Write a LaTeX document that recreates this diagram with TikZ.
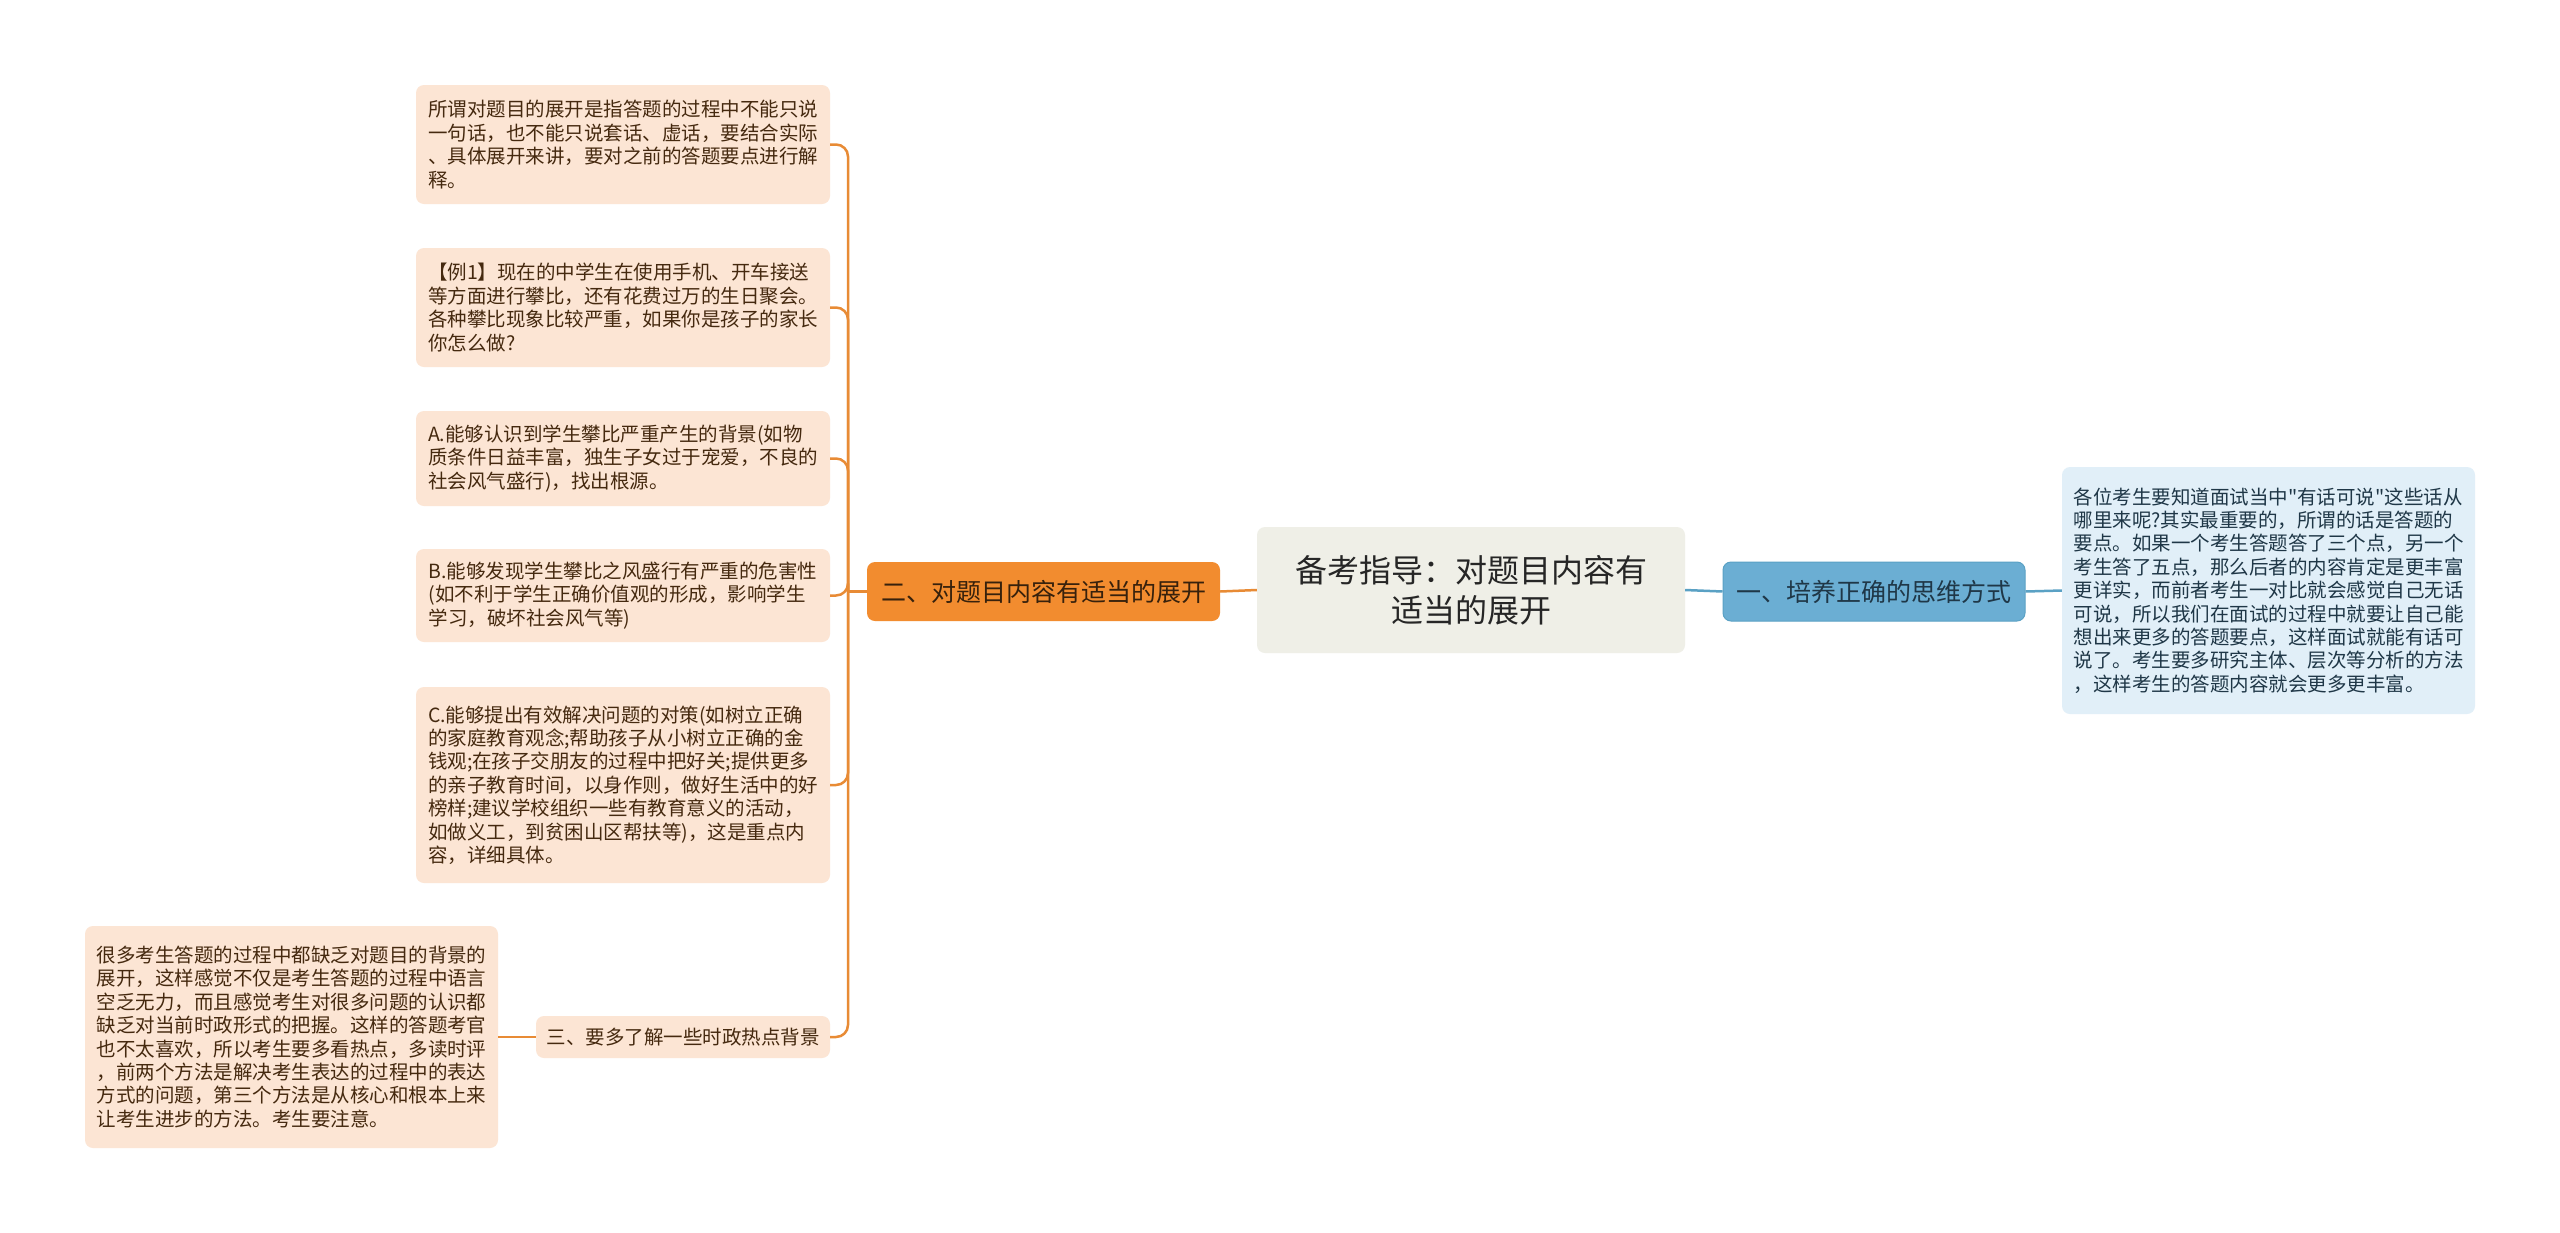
\documentclass[tikz,border=0pt]{standalone}
\usepackage{fontspec}
\setmainfont{Noto Sans CJK SC}[Ligatures=TeXOff]
\definecolor{oline}{HTML}{E88B35}
\definecolor{ofill}{HTML}{F28C2F}
\definecolor{lfill}{HTML}{FCE5D4}
\definecolor{ltext}{HTML}{45290F}
\definecolor{rfill}{HTML}{EFEFE7}
\definecolor{bline}{HTML}{5AA1C4}
\definecolor{bfill}{HTML}{6BAED3}
\definecolor{bleaffill}{HTML}{E1EFF8}
\definecolor{btext}{HTML}{1F3747}
\tikzset{box/.style={rounded corners=8pt, inner sep=0pt, align=left},
	leaf/.style={box, fill=lfill, text=ltext, minimum width=414pt,
		font=\fontsize{19.5}{23.4}\selectfont},
	obranch/.style={draw=oline, line width=2.5pt, rounded corners=12pt},
	bbranch/.style={draw=bline, line width=2.5pt}}

\begin{document}
\begin{tikzpicture}
  [x=1pt,y=-1pt]
  \useasboundingbox[fill=white] (0,0) rectangle (2560,1232);
  % centre
  \node[box, fill=rfill, text=black!85, align=center, minimum width=428pt, minimum height=126pt,
    font=\fontsize{32}{40}\selectfont] (root) at (1471,590) {备考指导：对题目内容有\\适当的展开};
  % main branches
  \node[box, fill=ofill, text=ltext!80!black, minimum width=353pt, minimum height=59pt,
    font=\fontsize{25}{30}\selectfont] (b2) at (1043.5,591.5) {二、对题目内容有适当的展开};
  \node[box, fill=bfill, draw=bline, line width=1pt, text=btext, minimum width=302pt, minimum height=59pt,
    font=\fontsize{25}{30}\selectfont] (b1) at (1874,591.5) {一、培养正确的思维方式};
  \node[box, fill=bleaffill, text=btext, minimum width=413pt, minimum height=247pt,
    font=\fontsize{19.5}{23.4}\selectfont] (bl) at (2268.5,590.5)
    {各位考生要知道面试当中"有话可说"这些话从\\哪里来呢?其实最重要的，所谓的话是答题的\\要点。如果一个考生答题答了三个点，另一个\\考生答了五点，那么后者的内容肯定是更丰富\\更详实，而前者考生一对比就会感觉自己无话\\可说，所以我们在面试的过程中就要让自己能\\想出来更多的答题要点，这样面试就能有话可\\说了。考生要多研究主体、层次等分析的方法\\，这样考生的答题内容就会更多更丰富。};
  % leaves of branch two
  \node[leaf, minimum height=119pt] (l1) at (623,144.5)
    {所谓对题目的展开是指答题的过程中不能只说\\一句话，也不能只说套话、虚话，要结合实际\\、具体展开来讲，要对之前的答题要点进行解\\释。};
  \node[leaf, minimum height=119pt] (l2) at (623,307.5)
    {【例1】现在的中学生在使用手机、开车接送\\等方面进行攀比，还有花费过万的生日聚会。\\各种攀比现象比较严重，如果你是孩子的家长\\你怎么做?};
  \node[leaf, minimum height=95pt] (la) at (623,458.5)
    {A.能够认识到学生攀比严重产生的背景(如物\\质条件日益丰富，独生子女过于宠爱，不良的\\社会风气盛行)，找出根源。};
  \node[leaf, minimum height=93pt] (lb) at (623,595.5)
    {B.能够发现学生攀比之风盛行有严重的危害性\\(如不利于学生正确价值观的形成，影响学生\\学习，破坏社会风气等)};
  \node[leaf, minimum height=196pt] (lc) at (623,785)
    {C.能够提出有效解决问题的对策(如树立正确\\的家庭教育观念;帮助孩子从小树立正确的金\\钱观;在孩子交朋友的过程中把好关;提供更多\\的亲子教育时间，以身作则，做好生活中的好\\榜样;建议学校组织一些有教育意义的活动，\\如做义工，到贫困山区帮扶等)，这是重点内\\容，详细具体。};
  \node[leaf, align=center, minimum width=294pt, minimum height=42pt] (b3) at (683,1037)
    {三、要多了解一些时政热点背景};
  \node[leaf, minimum width=413pt, minimum height=222pt] (lng) at (291.5,1037)
    {很多考生答题的过程中都缺乏对题目的背景的\\展开，这样感觉不仅是考生答题的过程中语言\\空乏无力，而且感觉考生对很多问题的认识都\\缺乏对当前时政形式的把握。这样的答题考官\\也不太喜欢，所以考生要多看热点，多读时评\\，前两个方法是解决考生表达的过程中的表达\\方式的问题，第三个方法是从核心和根本上来\\让考生进步的方法。考生要注意。};
  % connectors
  \coordinate (tr) at (848,591.5);
  \draw[obranch] (root.west) -- (b2.east);
  \draw[obranch] (b2.west) -- (tr);
  \foreach \to in {l1,l2,la,lb,lc,b3}
    \draw[obranch] (tr) |- (\to.east);
  \draw[obranch] (b3.west) -- (lng.east);
  \draw[bbranch] (root.east) -- (b1.west);
  \draw[bbranch] (b1.east) -- (bl.west);
\end{tikzpicture}
\end{document}
